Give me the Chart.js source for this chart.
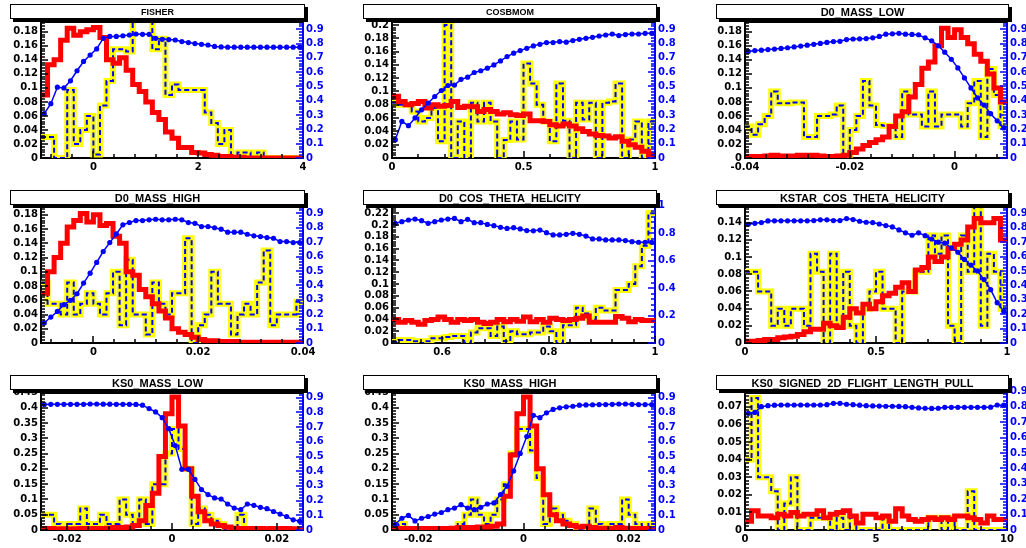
<!DOCTYPE html>
<html>
<head>
<meta charset="utf-8">
<script src="https://cdn.jsdelivr.net/npm/chart.js@4.4.1/dist/chart.umd.min.js"></script>
<style>
  body { margin: 0; background: #fff; }
  #page { position: relative; width: 1026px; height: 548px; overflow: hidden; background: #fff; }
  #page canvas { position: absolute; }
  .title {
    position: absolute; box-sizing: border-box; background: #fff;
    border: 1px solid #000; box-shadow: 3px 3px 0 #000;
    font-family: "Liberation Sans", Arial, sans-serif; font-weight: bold;
    display: flex; align-items: center; justify-content: center; z-index: 2;
  }
</style>
</head>
<body>
<div id="page"></div>
<script>
// 40 bins per variable: red = thick red histogram, yellow = yellow/blue dashed histogram,
// eff = blue points (right axis)
const fisherRed = [0.09,0.133,0.14,0.168,0.185,0.175,0.18,0.183,0.186,0.172, 0.14,0.135,0.143,0.125,0.105,0.095,0.08,0.065,0.055,0.037, 0.028,0.015,0.015,0.008,0.007,0.005,0.004,0.002,0.002,0.001, 0.001,0,0,0,0,0,0,0,0,0]
const fisherYellow = [0.03,0.03,0,0,0.097,0.02,0.04,0.06,0.005,0.075, 0.11,0.155,0.155,0.152,0.2,0.2,0.2,0.155,0.17,0.09, 0.105,0.097,0.097,0.097,0.097,0.065,0.05,0.02,0.04,0, 0.008,0.008,0,0.008,0,0,0,0,0,0]
const fisherEff = [0.31,0.38,0.495,0.49,0.54,0.61,0.675,0.72,0.763,0.837, 0.85,0.85,0.855,0.86,0.867,0.865,0.865,0.837,0.83,0.828, 0.825,0.814,0.807,0.8,0.795,0.79,0.78,0.777,0.775,0.775, 0.775,0.775,0.775,0.775,0.775,0.775,0.775,0.775,0.775,0.775]

const cosbRed = [0.093,0.085,0.08,0.082,0.085,0.075,0.08,0.078,0.079,0.085, 0.076,0.078,0.077,0.07,0.073,0.07,0.066,0.068,0.065,0.064, 0.066,0.056,0.056,0.055,0.05,0.048,0.051,0.048,0.044,0.04, 0.036,0.034,0.033,0.03,0.032,0.025,0.02,0.016,0.01,0.005]
const cosbYellow = [0.083,0.08,0.08,0.07,0.055,0.06,0.075,0.025,0.2,0, 0.055,0,0.083,0.055,0.083,0.055,0,0.027,0.055,0.028, 0.142,0.112,0.08,0.055,0.025,0.112,0.056,0,0.083,0.058, 0.083,0,0.083,0.085,0.112,0,0.028,0.055,0,0.055]
const cosbEff = [0.128,0.256,0.226,0.28,0.337,0.384,0.43,0.472,0.507,0.51, 0.55,0.565,0.598,0.61,0.628,0.651,0.679,0.709,0.733,0.751, 0.767,0.784,0.795,0.807,0.807,0.814,0.81,0.821,0.83,0.837, 0.844,0.853,0.86,0.867,0.856,0.863,0.867,0.867,0.872,0.872]

const d0LowRed = [0.002,0.002,0.002,0.003,0.004,0.003,0.003,0.003,0.004,0.004, 0.004,0.003,0.002,0.002,0.003,0.004,0.008,0.013,0.018,0.022, 0.026,0.03,0.045,0.06,0.066,0.087,0.105,0.128,0.137,0.16, 0.185,0.172,0.183,0.172,0.163,0.148,0.138,0.12,0.1,0.08]
const d0LowYellow = [0.045,0.033,0.048,0.06,0.095,0.078,0.078,0.079,0.079,0.03, 0.03,0.06,0.06,0.062,0.075,0,0.04,0.06,0.11,0.075, 0.047,0.046,0.046,0.03,0.095,0.062,0.062,0.045,0.095,0.045, 0.062,0.062,0.062,0.045,0.078,0.11,0.03,0.127,0.09,0.045]
const d0LowEff = [0.745,0.751,0.754,0.758,0.762,0.766,0.771,0.777,0.783,0.789, 0.795,0.801,0.808,0.814,0.816,0.828,0.832,0.833,0.835,0.84, 0.85,0.866,0.868,0.872,0.866,0.864,0.862,0.84,0.82,0.785, 0.74,0.69,0.63,0.56,0.49,0.42,0.37,0.31,0.26,0.21]

const d0HighRed = [0.07,0.1,0.12,0.14,0.163,0.172,0.182,0.17,0.18,0.165, 0.168,0.15,0.14,0.1,0.095,0.075,0.065,0.055,0.045,0.035, 0.02,0.015,0.012,0.008,0.005,0.003,0.003,0.002,0.002,0.002, 0.001,0.001,0.001,0.001,0.001,0.001,0.001,0.001,0.001,0.001]
const d0HighYellow = [0.085,0.055,0.055,0.04,0.085,0.04,0.055,0.07,0.055,0.04, 0.07,0.1,0.025,0.117,0.04,0.04,0.012,0.085,0.055,0.04, 0.07,0.07,0.147,0,0.025,0.04,0.1,0.055,0.055,0.012, 0.04,0.055,0.04,0.085,0.13,0.025,0.04,0.04,0.04,0.058]
const d0HighEff = [0.139,0.18,0.219,0.266,0.296,0.342,0.416,0.485,0.559,0.635, 0.697,0.757,0.82,0.836,0.85,0.85,0.855,0.859,0.855,0.855, 0.859,0.855,0.836,0.831,0.808,0.808,0.8,0.79,0.769,0.769, 0.769,0.755,0.744,0.739,0.732,0.727,0.704,0.704,0.697,0.697]

const d0CosRed = [0.04,0.035,0.038,0.035,0.032,0.038,0.04,0.044,0.04,0.035, 0.04,0.038,0.04,0.035,0.033,0.035,0.04,0.036,0.04,0.037, 0.044,0.036,0.04,0.035,0.042,0.04,0.038,0.04,0.042,0.046, 0.035,0.035,0.035,0.035,0.045,0.042,0.036,0.04,0.038,0.038]
const d0CosYellow = [0.002,0.005,0.005,0.003,0,0.003,0.008,0.008,0.01,0.012, 0.012,0,0.018,0.025,0.025,0.012,0.028,0.003,0.02,0.015, 0.015,0.018,0.018,0.028,0.02,0,0.03,0.03,0.06,0.05, 0.04,0.06,0.055,0.055,0.09,0.09,0.1,0.13,0.165,0.22]
const d0CosEff = [0.873,0.885,0.897,0.904,0.892,0.873,0.885,0.897,0.904,0.909, 0.885,0.902,0.878,0.878,0.865,0.856,0.844,0.836,0.841,0.832, 0.82,0.818,0.824,0.805,0.788,0.788,0.793,0.8,0.793,0.78, 0.759,0.759,0.752,0.752,0.752,0.747,0.739,0.735,0.735,0.735]

const kstarRed = [0.002,0.002,0.003,0.004,0.004,0.006,0.007,0.008,0.01,0.013, 0.016,0.016,0.023,0.02,0.018,0.03,0.04,0.035,0.045,0.04, 0.048,0.055,0.058,0.065,0.07,0.06,0.085,0.088,0.1,0.095, 0.1,0.11,0.115,0.12,0.135,0.145,0.14,0.14,0.145,0.12]
const kstarYellow = [0.083,0.083,0.06,0.06,0.02,0.04,0.02,0.04,0.04,0.02, 0.104,0.083,0,0.104,0.02,0.083,0.02,0,0.04,0.06, 0.083,0.04,0.04,0,0.06,0.06,0.083,0.083,0.125,0.104, 0.125,0.02,0,0.125,0.083,0.16,0.02,0.104,0.083,0.04]
const kstarEff = [0.824,0.831,0.836,0.847,0.848,0.848,0.848,0.848,0.848,0.848, 0.85,0.855,0.855,0.85,0.85,0.864,0.857,0.845,0.838,0.836, 0.826,0.815,0.806,0.785,0.765,0.748,0.765,0.745,0.722,0.7, 0.693,0.66,0.63,0.58,0.54,0.5,0.44,0.37,0.28,0.22]

const ks0LowRed = [0.005,0.005,0.003,0.004,0.003,0.004,0.005,0.004,0.005,0.005, 0.006,0.008,0.008,0.01,0.015,0.03,0.08,0.12,0.24,0.38, 0.435,0.34,0.2,0.11,0.06,0.03,0.02,0.015,0.01,0.006, 0.005,0.005,0.005,0.005,0.004,0.005,0.005,0.005,0.004,0.004]
const ks0LowYellow = [0.05,0.05,0.02,0,0.02,0.02,0.07,0.02,0.02,0.05, 0.02,0.02,0.1,0.05,0.02,0.1,0.02,0.15,0.15,0.25, 0.33,0.265,0.2,0.02,0.07,0.05,0.03,0.02,0,0, 0.05,0,0,0,0,0,0,0,0,0]
const ks0LowEff = [0.854,0.855,0.855,0.855,0.855,0.855,0.855,0.857,0.857,0.856, 0.856,0.855,0.855,0.855,0.854,0.849,0.826,0.803,0.764,0.689, 0.574,0.413,0.413,0.344,0.275,0.241,0.218,0.211,0.177,0.149, 0.138,0.177,0.168,0.154,0.145,0.126,0.108,0.092,0.069,0.06]

const ks0HighRed = [0.005,0.005,0.005,0.005,0.005,0.005,0.005,0.005,0.005,0.006, 0.008,0.008,0.008,0.01,0.01,0.012,0.02,0.11,0.245,0.38, 0.435,0.34,0.2,0.115,0.05,0.03,0.02,0.015,0.01,0.012, 0.008,0.006,0.006,0.005,0.008,0.006,0.005,0.005,0.005,0.005]
const ks0HighYellow = [0,0.02,0,0,0,0,0,0,0,0, 0.02,0.05,0.1,0.05,0.02,0.05,0.1,0.15,0.25,0.33, 0.33,0.26,0.17,0.02,0.07,0.05,0.03,0.02,0,0, 0.07,0.02,0,0.02,0.02,0.1,0.05,0.02,0,0.02]
const ks0HighEff = [0.039,0.08,0.099,0.062,0.08,0.092,0.108,0.119,0.138,0.149, 0.172,0.149,0.138,0.154,0.177,0.184,0.241,0.298,0.402,0.521, 0.636,0.78,0.764,0.797,0.82,0.831,0.838,0.842,0.849,0.851, 0.852,0.853,0.853,0.855,0.857,0.857,0.855,0.853,0.853,0.853]

const flightRed = [0.005,0.011,0.008,0.008,0.007,0.009,0.008,0.01,0.008,0.009, 0.009,0.011,0.007,0.009,0.01,0.011,0.008,0.004,0.009,0.009, 0.007,0.008,0.005,0.012,0.008,0.006,0.005,0.006,0.007,0.006, 0.007,0.006,0.008,0.008,0.007,0.006,0.004,0.008,0.006,0.006]
const flightYellow = [0.04,0.075,0.03,0.03,0.022,0,0.015,0.03,0,0, 0.007,0.007,0.007,0,0.007,0,0.007,0,0,0, 0,0.007,0,0,0,0,0,0,0.007,0.007, 0,0.007,0,0,0.022,0,0,0,0,0]
const flightEff = [0.757,0.763,0.8,0.807,0.81,0.811,0.811,0.811,0.811,0.811, 0.811,0.811,0.813,0.822,0.822,0.816,0.813,0.81,0.807,0.805, 0.804,0.803,0.803,0.802,0.8,0.796,0.792,0.79,0.789,0.79, 0.796,0.796,0.796,0.796,0.796,0.796,0.796,0.797,0.811,0.81]

// tick labels
const effTicks = [0,0.1,0.2,0.3,0.4,0.5,0.6,0.7,0.8,0.9]
const effTicksCoarse = [0,0.2,0.4,0.6,0.8,1]
const ticks018 = [0,0.02,0.04,0.06,0.08,0.1,0.12,0.14,0.16,0.18]
const ticks020 = [0,0.02,0.04,0.06,0.08,0.1,0.12,0.14,0.16,0.18,0.2]
const ticks022 = [0,0.02,0.04,0.06,0.08,0.1,0.12,0.14,0.16,0.18,0.2,0.22]
const ticks016 = [0,0.02,0.04,0.06,0.08,0.1,0.12,0.14,0.16]
const ticks045 = [0,0.05,0.1,0.15,0.2,0.25,0.3,0.35,0.4,0.45]
const ticks007 = [0,0.01,0.02,0.03,0.04,0.05,0.06,0.07]

const panels = [
  { title: 'FISHER', tSize: 9, x: [-1, 4], xTicks: [0, 2, 4], xMinor: 0.4, yMax: 0.194, yTicks: ticks018, yMinor: 0.004, rMax: 0.951, rTicks: effTicks, rMinor: 0.02, red: fisherRed, yellow: fisherYellow, eff: fisherEff },
  { title: 'COSBMOM', tSize: 9, x: [0, 1], xTicks: [0, 0.5, 1], xMinor: 0.1, yMax: 0.2045, yTicks: ticks020, yMinor: 0.004, rMax: 0.951, rTicks: effTicks, rMinor: 0.02, red: cosbRed, yellow: cosbYellow, eff: cosbEff },
  { title: 'D0_MASS_LOW', tSize: 11, x: [-0.04, 0.01], xTicks: [-0.04, -0.02, 0], xMinor: 0.004, yMax: 0.194, yTicks: ticks018, yMinor: 0.004, rMax: 0.951, rTicks: effTicks, rMinor: 0.02, red: d0LowRed, yellow: d0LowYellow, eff: d0LowEff },
  { title: 'D0_MASS_HIGH', tSize: 11, x: [-0.01, 0.04], xTicks: [0, 0.02, 0.04], xMinor: 0.004, yMax: 0.191, yTicks: ticks018, yMinor: 0.004, rMax: 0.944, rTicks: effTicks, rMinor: 0.02, red: d0HighRed, yellow: d0HighYellow, eff: d0HighEff },
  { title: 'D0_COS_THETA_HELICITY', tSize: 11, x: [0.506, 1], xTicks: [0.6, 0.8, 1], xMinor: 0.04, yMax: 0.2307, yTicks: ticks022, yMinor: 0.004, rMax: 0.992, rTicks: effTicksCoarse, rMinor: 0.04, red: d0CosRed, yellow: d0CosYellow, eff: d0CosEff },
  { title: 'KSTAR_COS_THETA_HELICITY', tSize: 11, x: [0, 1], xTicks: [0, 0.5, 1], xMinor: 0.1, yMax: 0.1583, yTicks: ticks016, yMinor: 0.004, rMax: 0.944, rTicks: effTicks, rMinor: 0.02, red: kstarRed, yellow: kstarYellow, eff: kstarEff },
  { title: 'KS0_MASS_LOW', tSize: 11, x: [-0.025, 0.025], xTicks: [-0.02, 0, 0.02], xMinor: 0.004, yMax: 0.448, yTicks: ticks045, yMinor: 0.01, rMax: 0.932, rTicks: effTicks, rMinor: 0.02, red: ks0LowRed, yellow: ks0LowYellow, eff: ks0LowEff },
  { title: 'KS0_MASS_HIGH', tSize: 11, x: [-0.025, 0.025], xTicks: [-0.02, 0, 0.02], xMinor: 0.004, yMax: 0.448, yTicks: ticks045, yMinor: 0.01, rMax: 0.932, rTicks: effTicks, rMinor: 0.02, red: ks0HighRed, yellow: ks0HighYellow, eff: ks0HighEff },
  { title: 'KS0_SIGNED_2D_FLIGHT_LENGTH_PULL', tSize: 11, x: [0, 10], xTicks: [0, 5, 10], xMinor: 1, yMax: 0.0778, yTicks: ticks007, yMinor: 0.002, rMax: 0.889, rTicks: effTicks, rMinor: 0.02, red: flightRed, yellow: flightYellow, eff: flightEff }
]

// page grid
const cellW = 342
const colsX = [0, 342, 684]
const rowsY = [0, 180, 360]
const rowsH = [180, 180, 188]
const plotX = [[41, 303], [392, 655], [745, 1007]]
const plotY = [[22, 158], [207, 343], [393, 530]]
const titleX = [[10, 305], [363, 657], [716, 1009]]
const titleY = [4, 190, 375]

const tickFont = { family: 'DejaVu Sans', weight: 'bold', size: 10 }
const fmt = v => String(Math.round(v * 1e6) / 1e6)

// histogram outline: one point per bin low edge plus the upper edge
function histPoints(vals, lo, hi) {
  const w = (hi - lo) / vals.length
  const pts = vals.map((v, i) => ({ x: lo + i * w, y: v }))
  pts.push({ x: hi, y: vals[vals.length - 1] })
  return pts
}
function centerPoints(vals, lo, hi) {
  const w = (hi - lo) / vals.length
  return vals.map((v, i) => ({ x: lo + (i + 0.5) * w, y: v }))
}

function innerTicks(ctx, scale, minor, horizontal, base, sign, color) {
  const majors = scale.ticks.map(t => t.value)
  ctx.strokeStyle = color
  ctx.lineWidth = 1.5
  ctx.beginPath()
  const k0 = Math.ceil(scale.min / minor - 1e-6)
  const k1 = Math.floor(scale.max / minor + 1e-6)
  for (let k = k0; k <= k1; k++) {
    const v = k * minor
    const big = majors.some(m => Math.abs(m - v) < minor * 0.01)
    const len = big ? 7 : 4
    const p = Math.round(scale.getPixelForValue(v))
    if (horizontal) { ctx.moveTo(p, base); ctx.lineTo(p, base + sign * len) }
    else { ctx.moveTo(base, p); ctx.lineTo(base + sign * len, p) }
  }
  ctx.stroke()
}

const insideTicks = {
  id: 'insideTicks',
  afterDraw(chart, args, opts) {
    const { ctx, chartArea: a, scales } = chart
    ctx.save()
    ctx.strokeStyle = '#000'
    ctx.lineWidth = 2
    ctx.beginPath(); ctx.moveTo(a.left, a.top); ctx.lineTo(a.right, a.top); ctx.stroke()
    innerTicks(ctx, scales.x, opts.xMinor, true, a.bottom, -1, '#000')
    innerTicks(ctx, scales.yL, opts.yMinor, false, a.left, 1, '#000')
    innerTicks(ctx, scales.yR, opts.rMinor, false, a.right, -1, '#0000ff')
    ctx.restore()
  }
}

const page = document.getElementById('page')

panels.forEach((p, i) => {
  const col = i % 3, row = Math.floor(i / 3)
  const cx = colsX[col], cy = rowsY[row], H = rowsH[row]
  const [pl, pr] = plotX[col]
  const [pt, pb] = plotY[row]

  const cv = document.createElement('canvas')
  cv.width = cellW; cv.height = H
  cv.style.left = cx + 'px'; cv.style.top = cy + 'px'
  cv.style.width = cellW + 'px'; cv.style.height = H + 'px'
  page.appendChild(cv)

  const t = document.createElement('div')
  t.className = 'title'
  t.textContent = p.title
  t.style.left = titleX[col][0] + 'px'
  t.style.top = titleY[row] + 'px'
  t.style.width = (titleX[col][1] - titleX[col][0]) + 'px'
  t.style.height = '15px'
  t.style.fontSize = p.tSize + 'px'
  page.appendChild(t)

  const [lo, hi] = p.x
  new Chart(cv, {
    type: 'line',
    data: {
      datasets: [
        { data: centerPoints(p.eff, lo, hi), yAxisID: 'yR', borderColor: '#0000ff', borderWidth: 1.5,
          pointRadius: 2.6, pointBackgroundColor: '#0000ff', pointBorderWidth: 0, order: 0 },
        { data: histPoints(p.red, lo, hi), yAxisID: 'yL', stepped: 'before', borderColor: '#ff0000',
          borderWidth: 5, pointRadius: 0, order: 1 },
        { data: histPoints(p.yellow, lo, hi), yAxisID: 'yL', stepped: 'before', borderColor: '#0000ff',
          borderWidth: 2, borderDash: [5, 3], pointRadius: 0, order: 2 },
        { data: histPoints(p.yellow, lo, hi), yAxisID: 'yL', stepped: 'before', borderColor: '#ffff00',
          borderWidth: 6, pointRadius: 0, order: 3 }
      ]
    },
    options: {
      responsive: false,
      animation: false,
      devicePixelRatio: 1,
      layout: { autoPadding: false, padding: { top: pt - cy, left: 0, right: 0, bottom: 0 } },
      plugins: {
        legend: { display: false },
        tooltip: { enabled: false },
        insideTicks: { xMinor: p.xMinor, yMinor: p.yMinor, rMinor: p.rMinor }
      },
      scales: {
        x: {
          type: 'linear', min: lo, max: hi,
          grid: { display: false, drawTicks: false },
          border: { display: true, color: '#000', width: 2 },
          ticks: { font: tickFont, color: '#000', padding: 3, autoSkip: false, maxRotation: 0, callback: fmt },
          afterBuildTicks: s => { s.ticks = p.xTicks.map(v => ({ value: v })) },
          afterFit: s => { s.height = cy + H - pb; s.paddingLeft = 0; s.paddingRight = 0 }
        },
        yL: {
          type: 'linear', position: 'left', min: 0, max: p.yMax,
          grid: { display: false, drawTicks: false },
          border: { display: true, color: '#000', width: 2 },
          ticks: { font: tickFont, color: '#000', padding: 3, autoSkip: false, callback: fmt },
          afterBuildTicks: s => { s.ticks = p.yTicks.map(v => ({ value: v })) },
          afterFit: s => { s.width = pl - cx; s.paddingTop = 0; s.paddingBottom = 0 }
        },
        yR: {
          type: 'linear', position: 'right', min: 0, max: p.rMax,
          grid: { display: false, drawTicks: false },
          border: { display: true, color: '#0000ff', width: 2 },
          ticks: { font: tickFont, color: '#0000ff', padding: 3, autoSkip: false, callback: fmt },
          afterBuildTicks: s => { s.ticks = p.rTicks.map(v => ({ value: v })) },
          afterFit: s => { s.width = cx + cellW - pr; s.paddingTop = 0; s.paddingBottom = 0 }
        }
      }
    },
    plugins: [insideTicks]
  })
})
</script>
</body>
</html>
